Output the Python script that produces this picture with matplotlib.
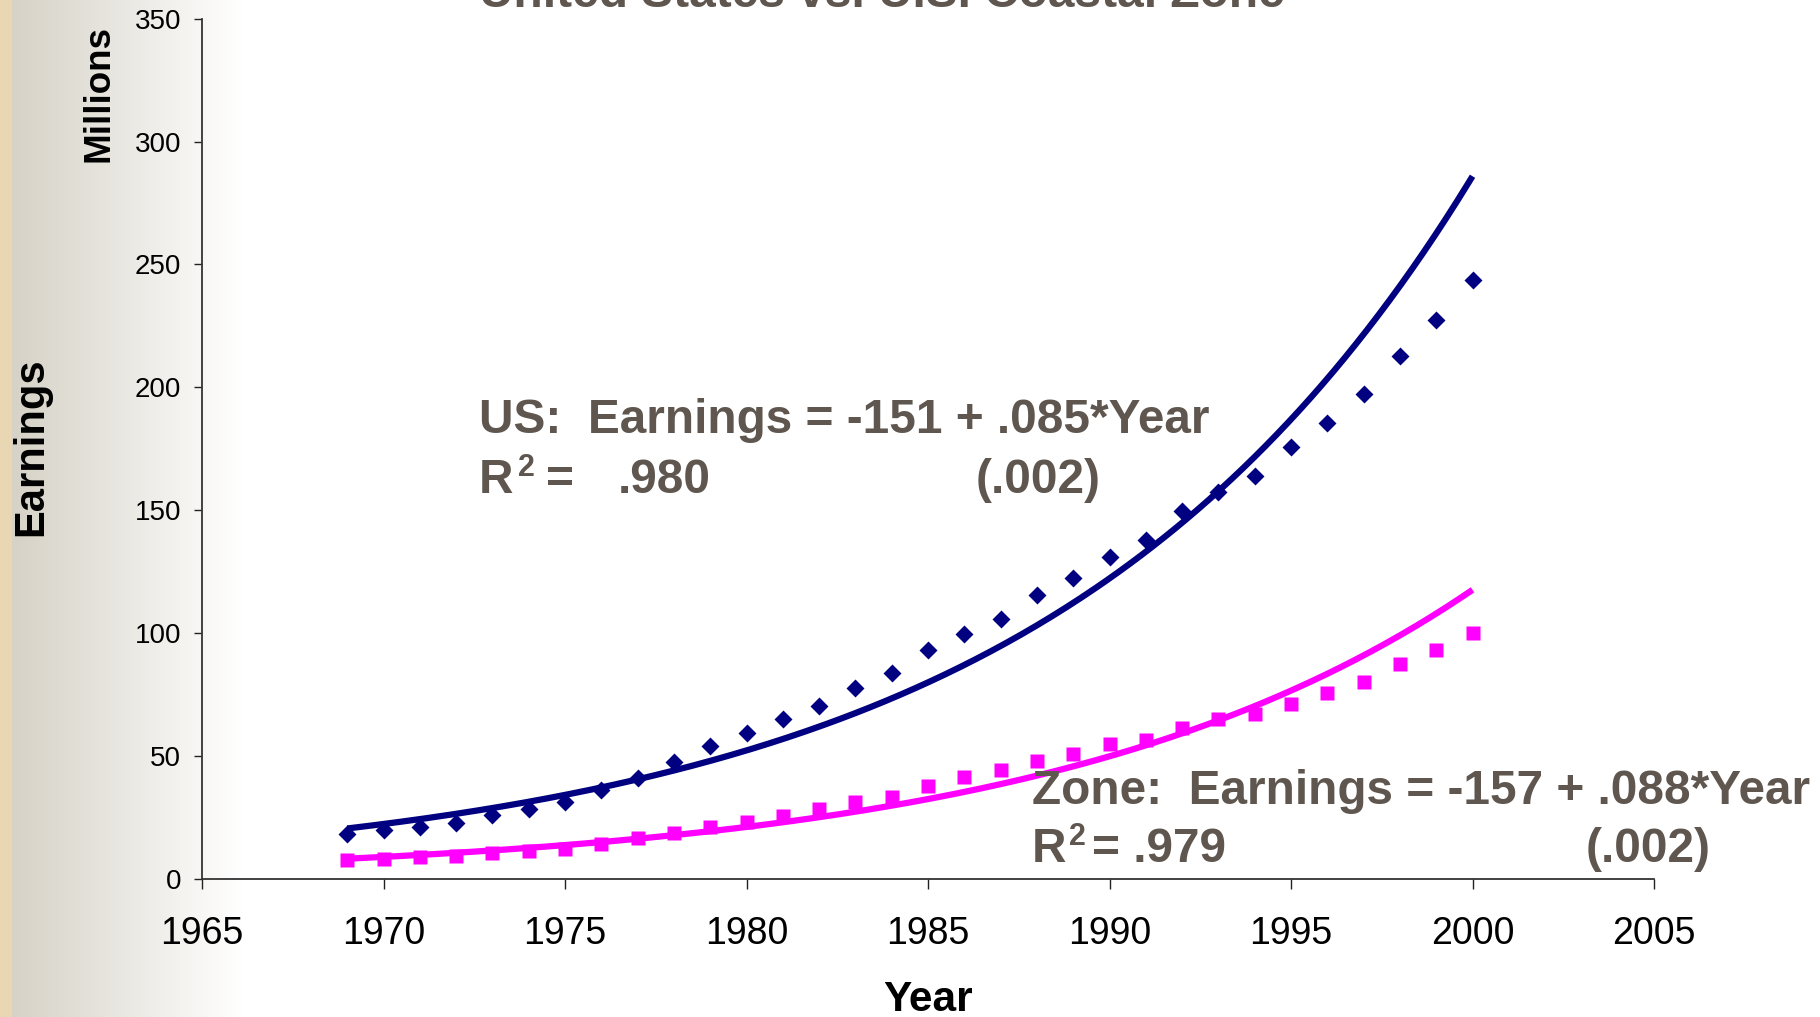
import numpy as np
import matplotlib
matplotlib.use("Agg")
import matplotlib.pyplot as plt

# ---------------- data ----------------
years = list(range(1969, 2001))
us_earnings = [18.4, 19.8, 21.3, 22.7, 26.0, 28.3, 31.2, 36.4, 41.1, 47.7,
               53.9, 59.5, 65.2, 70.4, 77.5, 83.6, 93.0, 99.7, 105.8, 115.7,
               122.3, 130.8, 137.9, 149.7, 157.3, 163.9, 175.7, 185.6, 197.4,
               212.6, 227.2, 243.7]
zone_earnings = [7.6, 8.0, 9.0, 9.4, 10.4, 11.3, 12.3, 14.2, 16.5, 18.9,
                 21.3, 23.1, 25.5, 28.3, 31.2, 33.5, 37.8, 41.6, 44.4, 48.2,
                 51.0, 54.8, 56.7, 61.4, 65.2, 67.1, 71.3, 75.6, 80.3, 87.4,
                 93.0, 100.1]
x_ticks = [1965, 1970, 1975, 1980, 1985, 1990, 1995, 2000, 2005]
y_ticks = [0, 50, 100, 150, 200, 250, 300, 350]

title = "United States vs. U.S. Coastal Zone"
us_eq = "US:  Earnings = -151 + .085*Year"
us_r2 = ".980"
us_se = "(.002)"
zone_eq = "Zone:  Earnings = -157 + .088*Year"
zone_r2 = "= .979"
zone_se = "(.002)"

# ---------------- figure ----------------
W, H = 1820, 1017
fig = plt.figure(figsize=(W / 100, H / 100), dpi=100)
plt.rcParams['font.family'] = ['Liberation Sans', 'DejaVu Sans']

# background: parchment strip + grey gradient to white
bg = fig.add_axes([0, 0, 1, 1], zorder=-10)
bg.set_axis_off()
xs = np.arange(W)
img = np.ones((1, W, 3))
start = np.array([214, 210, 199]) / 255.0
end = np.array([255, 255, 255]) / 255.0
t = np.clip((xs - 12) / 230.0, 0, 1)[:, None]
grad = start + (end - start) * t
img[0] = grad
img[0, :12] = np.array([232, 215, 178]) / 255.0
bg.imshow(img, aspect='auto', extent=[0, W, 0, H], interpolation='nearest')
bg.set_xlim(0, W)
bg.set_ylim(0, H)

ax = fig.add_axes([202 / W, 1 - 879 / H, (1654 - 202) / W, (879 - 18.6) / H])
ax.patch.set_alpha(0)

yrs = np.array(years, dtype=float)
us = np.array(us_earnings)
zn = np.array(zone_earnings)
xf = np.linspace(yrs.min(), yrs.max(), 300)
m1, b1 = np.polyfit(yrs, np.log(us), 1)
m2, b2 = np.polyfit(yrs, np.log(zn), 1)

navy = '#000080'
mag = '#ff00ff'
ax.plot(xf, np.exp(b1 + m1 * xf), color=navy, lw=4.5, zorder=3, solid_capstyle='butt')
ax.plot(xf, np.exp(b2 + m2 * xf), color=mag, lw=4.5, zorder=3, solid_capstyle='butt')
ax.plot(yrs, us, ls='none', marker='D', ms=8.8, color=navy, mec='none', zorder=4)
ax.plot(yrs, zn, ls='none', marker='s', ms=10.5, color=mag, mec='none', zorder=4)

ax.set_xlim(1965, 2005)
ax.set_ylim(0, 350)
ax.set_xticks(x_ticks)
ax.set_yticks(y_ticks)
ax.set_xticklabels([str(v) for v in x_ticks], fontsize=27)
ax.set_yticklabels([str(v) for v in y_ticks], fontsize=20)
ax.tick_params(axis='x', direction='out', length=7, width=1, pad=20, colors='#222222', labelcolor='black')
ax.tick_params(axis='y', direction='out', length=6, width=1, pad=9, colors='#222222', labelcolor='black')
for s in ['top', 'right']:
    ax.spines[s].set_visible(False)
for s in ['left', 'bottom']:
    ax.spines[s].set_color('#333333')
    ax.spines[s].set_linewidth(1.3)

tc = '#5f574f'
fs = 34.4
fig.text(479 / W, 1 - 433 / H, us_eq, fontsize=fs, fontweight='bold', color=tc, va='baseline', zorder=10)
fig.text(479 / W, 1 - 493 / H, "R", fontsize=fs, fontweight='bold', color=tc, va='baseline', zorder=10)
fig.text(518 / W, 1 - 476 / H, "2", fontsize=22, fontweight='bold', color=tc, va='baseline', zorder=10)
fig.text(546 / W, 1 - 493 / H, "=", fontsize=fs, fontweight='bold', color=tc, va='baseline', zorder=10)
fig.text(618 / W, 1 - 493 / H, us_r2, fontsize=fs, fontweight='bold', color=tc, va='baseline', zorder=10)
fig.text(976 / W, 1 - 493 / H, us_se, fontsize=fs, fontweight='bold', color=tc, va='baseline', zorder=10)

fig.text(1032 / W, 1 - 804 / H, zone_eq, fontsize=fs, fontweight='bold', color=tc, va='baseline', zorder=10)
fig.text(1032 / W, 1 - 862 / H, "R", fontsize=fs, fontweight='bold', color=tc, va='baseline', zorder=10)
fig.text(1069 / W, 1 - 845 / H, "2", fontsize=22, fontweight='bold', color=tc, va='baseline', zorder=10)
fig.text(1092 / W, 1 - 862 / H, zone_r2, fontsize=fs, fontweight='bold', color=tc, va='baseline', zorder=10)
fig.text(1586 / W, 1 - 862 / H, zone_se, fontsize=fs, fontweight='bold', color=tc, va='baseline', zorder=10)

fig.text(882 / W, 1 - 7 / H, title, fontsize=34.5, fontweight='bold', color=tc, ha='center', va='baseline')

fig.text(928 / W, 1 - 1011 / H, "Year", fontsize=30.5, fontweight='bold', color='black', ha='center', va='baseline')
fig.text(31 / W, 1 - 447 / H, "Earnings", fontsize=30, fontweight='bold', color='black', ha='center', va='center', rotation=90)
fig.text(99 / W, 1 - 94 / H, "Millions", fontsize=26.5, fontweight='bold', color='black', ha='center', va='center', rotation=90)

fig.savefig('out.png', dpi=100)
